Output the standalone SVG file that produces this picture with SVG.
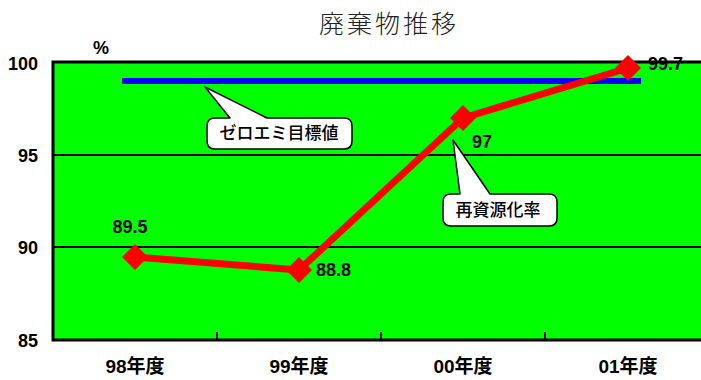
<svg xmlns="http://www.w3.org/2000/svg" width="701" height="380" viewBox="0 0 701 380">
<style>
.num{font-family:"Liberation Sans",Arial,sans-serif;font-weight:bold;font-size:18px;fill:#000}
.cat{font-family:"Liberation Sans","Noto Sans CJK JP",sans-serif;font-weight:bold;font-size:19px;fill:#000;text-anchor:middle}
.call{fill:#fff;stroke:#000;stroke-width:1.5;stroke-linejoin:round}
.ctext{font-family:"Noto Sans CJK JP",sans-serif;font-weight:500;font-size:17px;fill:#000;text-anchor:middle}
.grid{stroke:#000;stroke-width:2}
</style>
<defs>
<path id="dia" d="M0,-13 L13,0 L0,13 L-13,0 Z" fill="#f00"/>
</defs>
<rect width="701" height="380" fill="#fff"/>
<text x="389" y="33" font-family="'Noto Sans CJK JP',sans-serif" font-weight="300" font-size="25" letter-spacing="3" text-anchor="middle" fill="#222">廃棄物推移</text>
<g id="plot">
<rect x="53" y="62" width="660" height="278" fill="#00ff00" stroke="#000" stroke-width="3"/>
<line class="grid" x1="53" y1="155" x2="713" y2="155"/>
<line class="grid" x1="53" y1="247" x2="713" y2="247"/>
<g stroke="#000" stroke-width="2">
<line x1="217" y1="340" x2="217" y2="332"/>
<line x1="381" y1="340" x2="381" y2="332"/>
<line x1="545" y1="340" x2="545" y2="332"/>
</g>
</g>
<g id="axis-labels">
<text class="num" x="38" y="70" text-anchor="end">100</text>
<text class="num" x="38" y="162" text-anchor="end">95</text>
<text class="num" x="38" y="254" text-anchor="end">90</text>
<text class="num" x="38" y="347" text-anchor="end">85</text>
<text class="num" x="101" y="54" font-size="18" text-anchor="middle">%</text>
<text class="cat" x="135" y="373">98年度</text>
<text class="cat" x="299" y="373">99年度</text>
<text class="cat" x="463" y="373">00年度</text>
<text class="cat" x="628" y="373">01年度</text>
</g>
<g id="target-line">
<line x1="122" y1="81" x2="641" y2="81" stroke="#0000ff" stroke-width="6"/>
</g>
<g id="connectors">
<polyline points="135,257 299,270 463,118 628,68" fill="none" stroke="#f00" stroke-width="7" stroke-linejoin="round"/>
</g>
<g id="points">
<use href="#dia" x="135" y="257"/>
<use href="#dia" x="299" y="270"/>
<use href="#dia" x="463" y="118"/>
<use href="#dia" x="628" y="68"/>
<text class="num" x="130" y="233" text-anchor="middle">89.5</text>
<text class="num" x="316" y="276">88.8</text>
<text class="num" x="472" y="148">97</text>
<text class="num" x="648" y="70">99.7</text>
</g>
<g id="callout-target">
<path class="call" d="M215,118 L230,118 L205,87 L267,118 L344,118 Q352,118 352,126 L352,141 Q352,149 344,149 L215,149 Q207,149 207,141 L207,126 Q207,118 215,118 Z"/>
<text class="ctext" x="279" y="139">ゼロエミ目標値</text>
</g>
<g id="callout-rate">
<path class="call" d="M451,194 L460,194 L453,140 L490,194 L549,194 Q557,194 557,202 L557,218 Q557,226 549,226 L451,226 Q443,226 443,218 L443,202 Q443,194 451,194 Z"/>
<text class="ctext" x="498" y="216" font-size="18">再資源化率</text>
</g>
</svg>
